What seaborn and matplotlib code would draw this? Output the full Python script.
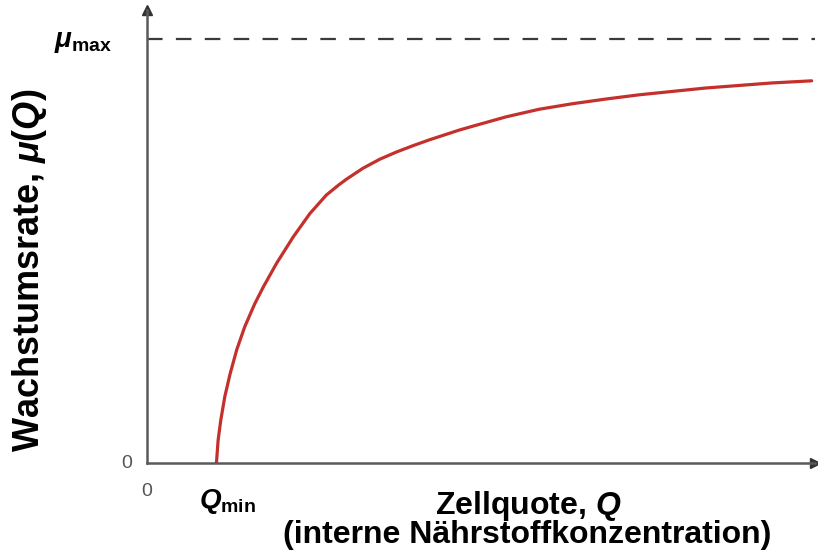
import matplotlib
matplotlib.use("Agg")
import matplotlib.pyplot as plt
import seaborn as sns
import pandas as pd

# --- Daten ---
zellquote = [1.045, 1.07, 1.11, 1.17, 1.25, 1.35, 1.47, 1.62, 1.75, 1.95, 2.2, 2.45,
             2.7, 2.88, 3.0, 3.25, 3.5, 3.75, 4.0, 4.25, 4.7, 4.9, 5.4, 5.9, 6.4,
             6.9, 7.4, 7.9, 8.4, 8.9, 9.4, 10.0]
wachstum = [0.0, 0.054, 0.101, 0.156, 0.210, 0.267, 0.321, 0.375, 0.415, 0.471, 0.533, 0.588,
            0.632, 0.655, 0.669, 0.695, 0.716, 0.733, 0.748, 0.762, 0.785, 0.794, 0.816, 0.834, 0.847,
            0.858, 0.868, 0.876, 0.884, 0.890, 0.896, 0.901]
mu_max = 1.0
q_min = 1.045

df = pd.DataFrame({"Q": zellquote, "mu": wachstum})

sns.set_style("white")
plt.rcParams['font.family'] = ['Liberation Sans', 'DejaVu Sans']
plt.rcParams['mathtext.fontset'] = 'custom'
plt.rcParams['mathtext.it'] = 'Liberation Sans:italic:bold'
plt.rcParams['mathtext.rm'] = 'Liberation Sans:bold'
plt.rcParams['mathtext.bf'] = 'Liberation Sans:bold'

fig = plt.figure(figsize=(8.18, 5.58), dpi=100)
ax = fig.add_axes([147 / 818, 95 / 558, 668 / 818, 453 / 558])

sns.lineplot(data=df, x="Q", y="mu", ax=ax, color="#c4302b", linewidth=2.3, sort=False)

# gestrichelte Linie fuer mu_max
ax.axhline(mu_max, color="#3a3a3a", linewidth=1.6, dashes=(7, 6))

ax.set_xlim(0, 10.05)
ax.set_ylim(0, 1.068)
ax.set_xticks([])
ax.set_yticks([])
ax.set_xlabel("")
ax.set_ylabel("")

for s in ["top", "right"]:
    ax.spines[s].set_visible(False)
for s in ["left", "bottom"]:
    ax.spines[s].set_color("#5a5a5a")
    ax.spines[s].set_linewidth(1.8)

# Pfeilspitzen
ax.plot(1, 0, ">", color="#333333", markersize=7, transform=ax.transAxes, clip_on=False)
ax.plot(0, 1, "^", color="#333333", markersize=7, transform=ax.transAxes, clip_on=False)

# Beschriftungen
ax.text(-0.03, 0, "0", transform=ax.transAxes, ha="center", va="center", fontsize=14, color="#555555")
ax.text(0, -0.063, "0", transform=ax.transAxes, ha="center", va="center", fontsize=14, color="#555555")
ax.text(q_min + 0.16, -0.084, r"$Q_{\mathrm{min}}$", transform=ax.get_xaxis_transform(),
        ha="center", va="center", fontsize=20, color="black")
ax.text(-0.095, mu_max - 0.007, r"$\mu_{\mathrm{max}}$", transform=ax.get_yaxis_transform(),
        ha="center", va="center", fontsize=20, color="black")

fig.text(528 / 818, 1 - 506 / 558, r"Zellquote, $Q$", ha="center", va="center",
         fontsize=23, fontweight="bold", color="black")
fig.text(527 / 818, 1 - 535 / 558, "(interne Nährstoffkonzentration)", ha="center", va="center",
         fontsize=23, fontweight="bold", color="black")
fig.text(30 / 818, 1 - 270 / 558, r"Wachstumsrate, $\mu(Q)$", ha="center", va="center",
         rotation=90, fontsize=26, fontweight="bold", color="black")

fig.savefig("out.png", dpi=100)
